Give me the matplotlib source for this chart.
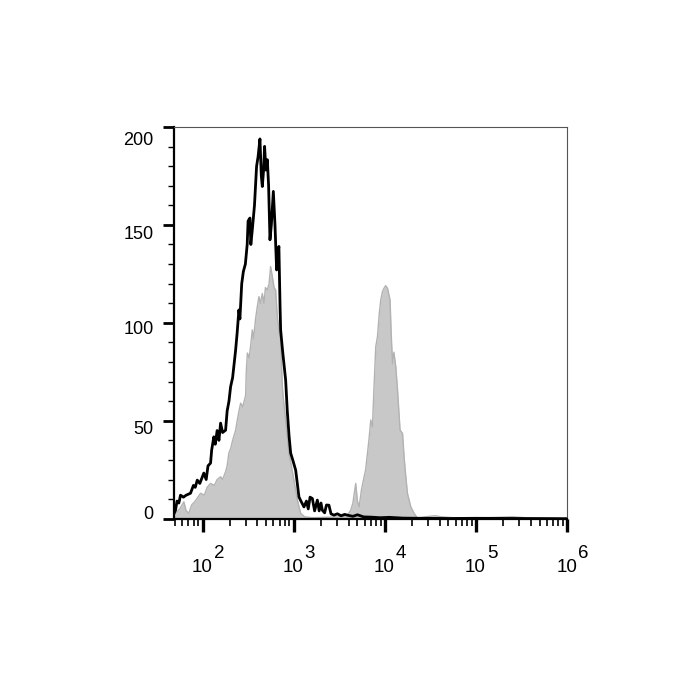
#流式细胞直方图
import numpy as np
import matplotlib.pyplot as plt
import matplotlib.transforms as mtransforms
from matplotlib.ticker import MultipleLocator, LogLocator, NullFormatter

plt.rcParams['font.family'] = ['Liberation Sans', 'DejaVu Sans']

#黑线（对照）：log10(荧光强度) 和 细胞数
black_logx = [1.69, 1.703, 1.72, 1.74, 1.758, 1.79, 1.82, 1.868, 1.90, 1.92, 1.942, 1.97, 2.014, 2.04, 2.06,
              2.088, 2.10, 2.124, 2.14, 2.16, 2.18, 2.198, 2.22, 2.253, 2.27, 2.29, 2.308, 2.33, 2.363, 2.38,
              2.399, 2.41, 2.43, 2.448, 2.47, 2.49, 2.50, 2.52, 2.53, 2.546, 2.57, 2.593, 2.61, 2.630, 2.645,
              2.656, 2.67, 2.681, 2.695, 2.711, 2.725, 2.740, 2.755, 2.777, 2.795, 2.813, 2.825, 2.838, 2.85,
              2.857, 2.88, 2.912, 2.93, 2.95, 2.967, 2.99, 3.022, 3.04, 3.058, 3.08, 3.113, 3.14, 3.16, 3.18,
              3.205, 3.23, 3.26, 3.28, 3.30, 3.315, 3.34, 3.36, 3.387, 3.41, 3.442, 3.48, 3.52, 3.56, 3.59,
              3.65, 3.70, 3.769, 3.85, 3.95, 4.05, 4.2, 4.4, 4.7, 5.0, 5.5, 6.0]
black_y = [3, 4.3, 9, 8, 12, 11, 12, 13, 17, 16, 19.7, 18, 23.3, 20, 27,
           28.4, 35, 41.8, 38, 45, 40, 48.8, 44, 45.2, 55, 60, 67.4, 72, 86.1, 95,
           106.6, 102, 120, 126.2, 130, 140, 152, 153.5, 140, 147.5, 160, 179.9, 185, 193.9, 175,
           169.6, 178, 190.1, 178, 183.3, 170, 142.4, 150, 167.1, 150, 127, 135, 139, 110,
           96.4, 85, 70.8, 55, 42, 33.5, 30, 24.8, 18, 11.1, 9, 6.0, 9, 5, 11,
           10.3, 4, 9.5, 4, 8, 4.3, 3, 7, 6.9, 2.5, 1.8, 2.5, 1.5, 2.2, 1.8,
           1.2, 2, 0.9, 0.8, 0.5, 0.7, 0.3, 0.2, 0.1, 0.2, 0.1, 0]

#灰色填充（样品）
grey_logx = [1.69, 1.703, 1.75, 1.795, 1.82, 1.849, 1.88, 1.92, 1.978, 2.02, 2.05, 2.088, 2.13, 2.16, 2.198,
             2.22, 2.253, 2.27, 2.289, 2.31, 2.33, 2.363, 2.38, 2.40, 2.418, 2.44, 2.473, 2.48, 2.492, 2.51,
             2.527, 2.546, 2.56, 2.582, 2.60, 2.619, 2.635, 2.656, 2.674, 2.69, 2.711, 2.73, 2.747, 2.766,
             2.785, 2.802, 2.821, 2.84, 2.857, 2.876, 2.89, 2.912, 2.93, 2.948, 2.975, 3.003, 3.041, 3.077,
             3.12, 3.2, 3.4, 3.55, 3.60, 3.626, 3.65, 3.681, 3.70, 3.718, 3.745, 3.773, 3.79, 3.810, 3.83,
             3.846, 3.865, 3.88, 3.901, 3.920, 3.94, 3.956, 3.975, 3.992, 4.01, 4.030, 4.058, 4.07, 4.085,
             4.10, 4.121, 4.140, 4.168, 4.195, 4.212, 4.23, 4.249, 4.286, 4.322, 4.359, 4.45, 4.55, 4.62,
             4.75, 5.0, 5.4, 5.6, 6.0]
grey_y = [1, 2.8, 5, 8.6, 4, 2.8, 7, 9, 13, 12, 16, 18, 17, 20, 21.4,
          20, 24, 27, 33.5, 36, 40, 45.2, 50, 55, 59, 57, 63, 75, 84.6, 82,
          87.8, 96.4, 92, 102, 108, 113.4, 110, 115, 110, 118, 116.8, 120, 128.7, 123.6,
          118, 116.8, 103, 96, 91.3, 67.4, 60, 50.4, 42, 33.5, 27, 19.7, 9.5, 2.7,
          1, 0.5, 0.8, 1, 2.5, 4.3, 8, 18, 9, 6, 15, 21.4, 25, 33.3, 42,
          50.4, 47, 65, 87.8, 93, 105, 111.7, 116, 117.7, 119, 117.7, 111.7, 95, 79.3,
          85, 77.6, 65.7, 45.2, 43.6, 31.6, 22, 12.9, 6, 2.7, 0.3, 1, 1.5, 1,
          0.5, 0.3, 1, 0.3, 0]

decades = [2, 3, 4, 5, 6]
yticks = [0, 50, 100, 150, 200]

bx = 10 ** np.array(black_logx)
gx = 10 ** np.array(grey_logx)

fig = plt.figure(figsize=(7, 7), dpi=100)
ax = fig.add_axes([0.249, 0.259, 0.561, 0.5596])

ax.fill_between(gx, grey_y, 0, color='#c8c8c8', linewidth=0, zorder=1)
ax.plot(gx, grey_y, color='#b2b2b2', linewidth=1.0, zorder=2)
ax.plot(bx, black_y, color='black', linewidth=2.0, zorder=3)

ax.set_xscale('log')
ax.set_xlim(10 ** 1.69, 10 ** 6)
ax.set_ylim(0, 200)

#坐标轴
for s in ['top', 'right']:
    ax.spines[s].set_color('#555555')
    ax.spines[s].set_linewidth(0.8)
for s in ['left', 'bottom']:
    ax.spines[s].set_color('black')
    ax.spines[s].set_linewidth(1.6)

ax.set_yticks(yticks)
ax.yaxis.set_minor_locator(MultipleLocator(10))
ax.tick_params(axis='y', which='major', direction='out', length=8, width=2, labelsize=13, pad=7)
ax.tick_params(axis='y', which='minor', direction='out', length=4, width=1)

# y标签原图略偏下
shift = [-6, 7, 5, 8, 12]
for lab, dy in zip(ax.get_yticklabels(), shift):
    lab.set_transform(lab.get_transform() + mtransforms.Affine2D().translate(0, -dy))

ax.xaxis.set_major_locator(LogLocator(base=10, numticks=10))
ax.xaxis.set_minor_locator(LogLocator(base=10, subs=np.arange(2, 10), numticks=20))
ax.xaxis.set_minor_formatter(NullFormatter())
ax.set_xticklabels([])
ax.tick_params(axis='x', which='major', direction='out', length=9, width=2.4)
ax.tick_params(axis='x', which='minor', direction='out', length=5, width=1.2)
ax.tick_params(top=False, right=False)

#x轴标签 10 和上标
for k in decades:
    ax.annotate('10', xy=(10 ** k, 0), xycoords=('data', 'axes fraction'),
                xytext=(10, -53), textcoords='offset pixels',
                ha='right', va='baseline', fontsize=13.5)
    ax.annotate(str(k), xy=(10 ** k, 0), xycoords=('data', 'axes fraction'),
                xytext=(11, -39), textcoords='offset pixels',
                ha='left', va='baseline', fontsize=13.5)

fig.savefig('out.png', dpi=100)
